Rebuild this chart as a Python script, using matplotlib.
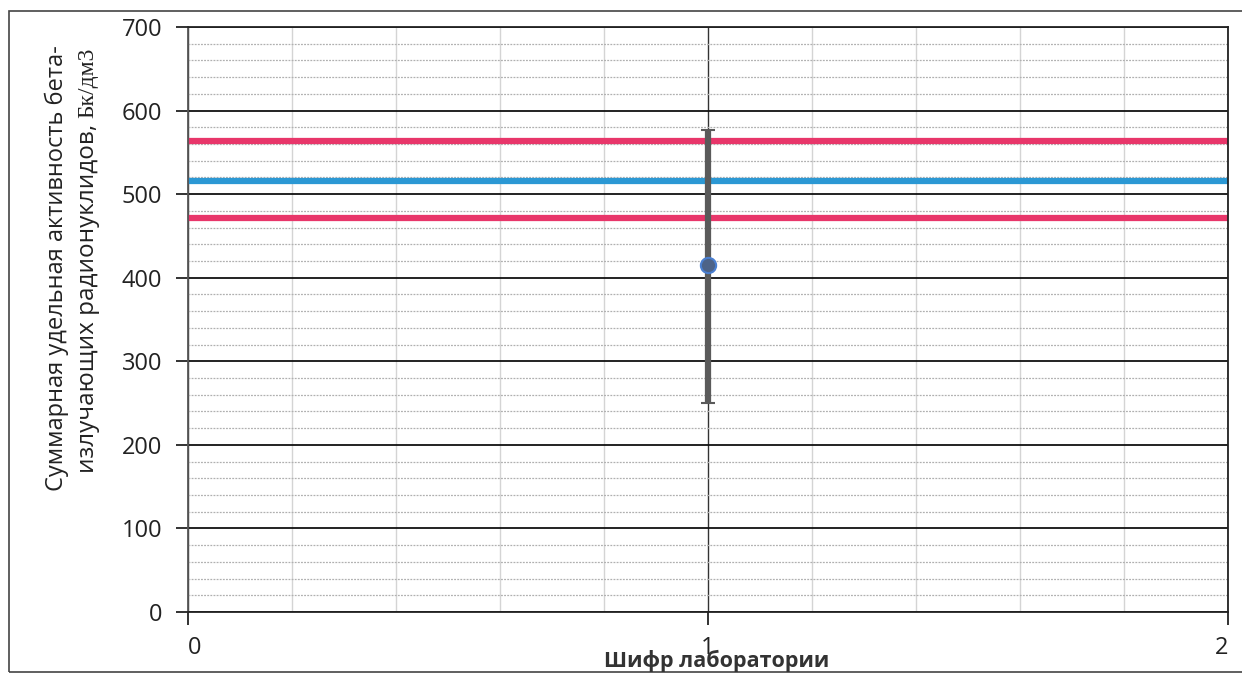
#Description
"""
Interlaboratory comparison chart: one laboratory result with its error bar
against the assigned value and the tolerance limits.
"""

#Libraries
import matplotlib
matplotlib.use('Agg')
import matplotlib.pyplot as plt
from matplotlib.patches import Rectangle
from matplotlib.ticker import MultipleLocator

#Data
lab_codes = [1]
lab_values = [415]
lab_err_low = [165]
lab_err_high = [162]
assigned_value = 516
limit_upper = 563
limit_lower = 472
x_range = [0, 2]
x_ticks = [0, 1, 2]

#Labels
y_label_1 = 'Суммарная удельная активность бета-'
y_label_2a = 'излучающих радионуклидов, '
y_label_2b = 'Бк/дм3'
x_label = 'Шифр лаборатории'

#Styles
SANS = ['Open Sans', 'DejaVu Sans']
SERIF = ['Liberation Serif', 'DejaVu Serif']
RED = '#e8366a'
BLUE = '#2b98d4'
W, H = 1242, 675


def main():
    ##Figure and axes
    fig = plt.figure(figsize=(W / 100, H / 100), dpi=100)
    ax = fig.add_axes([188 / W, 1 - 612 / H, (1228 - 188) / W, (612 - 27) / H])

    ##Figure frame
    fig.patches.append(Rectangle((9 / W, 1 - 672 / H), 1.2, (672 - 11) / H,
                                 transform=fig.transFigure, fill=False,
                                 edgecolor='#444444', linewidth=1.2))

    ##Limits and ticks
    ax.set_xlim(*x_range)
    ax.set_ylim(0, 700)
    ax.set_xticks(x_ticks)
    ax.xaxis.set_minor_locator(MultipleLocator(0.2))
    ax.yaxis.set_major_locator(MultipleLocator(100))
    ax.yaxis.set_minor_locator(MultipleLocator(20))

    ##Grid
    ax.grid(which='major', axis='y', color='#111111', linewidth=1.3)
    ax.grid(which='minor', axis='y', color='#b0b0b0', linewidth=0.9, linestyle=(0, (1.5, 1)))
    ax.grid(which='minor', axis='x', color='#d4d4d4', linewidth=1.0)
    ax.grid(which='major', axis='x', color='#333333', linewidth=1.0)
    ax.set_axisbelow(True)

    ##Reference lines
    ax.plot(x_range, [limit_upper] * 2, color=RED, linewidth=4.5, solid_capstyle='butt')
    ax.plot(x_range, [assigned_value] * 2, color=BLUE, linewidth=4.5, solid_capstyle='butt')
    ax.plot(x_range, [limit_lower] * 2, color=RED, linewidth=4.5, solid_capstyle='butt')

    ##Laboratory result
    ax.errorbar(lab_codes, lab_values, yerr=[lab_err_low, lab_err_high], fmt='o',
                color='#5a5a5a', ecolor='#5a5a5a', elinewidth=4.5, capsize=5,
                capthick=3, markersize=11, markerfacecolor='#4d6388',
                markeredgecolor='#4a7fd0', markeredgewidth=1.5, zorder=5)

    ##Spines and tick styling
    for side in ['left', 'bottom', 'right', 'top']:
        ax.spines[side].set_color('#222222')
        ax.spines[side].set_linewidth(1.3)
    ax.spines['left'].set_color('#555555')
    ax.tick_params(axis='both', which='major', direction='out', length=9,
                   width=1.3, color='#222222', labelsize=17, labelcolor='#222222')
    ax.tick_params(axis='both', which='minor', length=0)
    ax.tick_params(axis='x', pad=8)
    ax.tick_params(axis='y', pad=9.5)
    for lbl in ax.get_xticklabels() + ax.get_yticklabels():
        lbl.set_family(SANS)
    xlabels = ax.get_xticklabels()
    xlabels[0].set_ha('left')
    xlabels[-1].set_ha('right')

    ##Axis labels
    fig.text(57 / W, 1 - 268 / H, y_label_1, rotation=90, ha='center', va='center',
             fontsize=17, family=SANS, color='#222222')
    split_y = 1 - 118 / H
    fig.text(88 / W, split_y, y_label_2a, rotation=90, rotation_mode='anchor',
             ha='right', va='center', fontsize=17.5, family=SANS, color='#222222')
    fig.text(88 / W, split_y, y_label_2b, rotation=90, rotation_mode='anchor',
             ha='left', va='center', fontsize=17, family=SERIF, color='#222222')
    fig.text(717 / W, 1 - 661 / H, x_label, ha='center', va='center',
             fontsize=15.5, fontweight='bold', family=SANS, color='#333333')

    fig.savefig('out.png', dpi=100)
    plt.close(fig)


#Execution
if __name__ == '__main__':
    main()
